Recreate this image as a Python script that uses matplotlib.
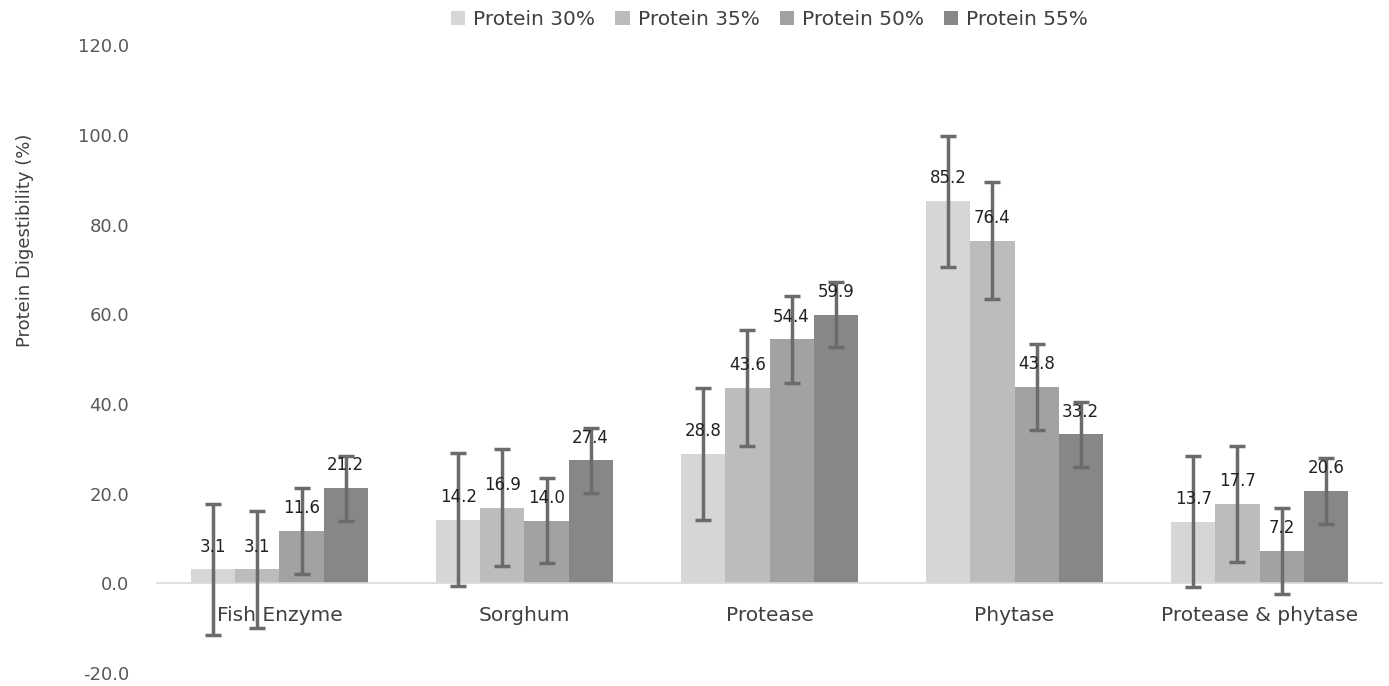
import numpy as np
import matplotlib.pyplot as plt

categorias = ["Fish Enzyme", "Sorghum", "Protease", "Phytase", "Protease & phytase"]
series = ["Protein 30%", "Protein 35%", "Protein 50%", "Protein 55%"]

p30 = [3.1, 14.2, 28.8, 85.2, 13.7]
p35 = [3.1, 16.9, 43.6, 76.4, 17.7]
p50 = [11.6, 14.0, 54.4, 43.8, 7.2]
p55 = [21.2, 27.4, 59.9, 33.2, 20.6]

err30 = [14.6, 14.8, 14.7, 14.6, 14.6]
err35 = [13.1, 13.0, 13.0, 13.0, 13.0]
err50 = [9.6, 9.4, 9.7, 9.6, 9.6]
err55 = [7.2, 7.2, 7.2, 7.2, 7.3]

valores = [p30, p35, p50, p55]
errores = [err30, err35, err50, err55]
colores = ['#d6d6d6', '#bcbcbc', '#a2a2a2', '#878787']

fig = plt.figure(figsize=(13.89, 6.86), dpi=100)
ax = fig.add_axes([0.113, 0.019, 0.882, 0.915])

x = np.arange(len(categorias))
ancho = 0.18
for i in range(4):
    pos = x + (i - 1.5) * ancho
    ax.bar(pos, valores[i], ancho, color=colores[i], label=series[i], zorder=2)
    ax.errorbar(pos, valores[i], yerr=errores[i], fmt='none', ecolor='#6b6b6b',
                elinewidth=2.5, capsize=6, capthick=2.5, zorder=3)
    for xp, v in zip(pos, valores[i]):
        ax.annotate("%.1f" % v, (xp, v), xytext=(0, 10), textcoords='offset points',
                    ha='center', va='bottom', fontsize=12, color='#222222', zorder=4)

ax.set_ylim(-20, 120)
ax.set_xlim(-0.5, len(categorias) - 0.5)
ax.set_yticks(np.arange(-20, 121, 20))
ax.set_yticklabels(["%.1f" % t for t in np.arange(-20, 121, 20)],
                   fontsize=13, color='#595959')
ax.tick_params(axis='y', length=0, pad=20)

ax.spines['bottom'].set_position(('data', 0))
ax.spines['bottom'].set_color('#d9d9d9')
ax.spines['bottom'].set_linewidth(1.2)
for s in ['top', 'right', 'left']:
    ax.spines[s].set_visible(False)
ax.set_xticks(x)
ax.set_xticklabels(categorias, fontsize=14.5, color='#404040')
ax.tick_params(axis='x', length=0, pad=16)

ax.set_ylabel("Protein Digestibility (%)", fontsize=13, color='#404040')
ax.yaxis.set_label_coords(-0.1, 0.69)

ax.legend(loc='upper center', bbox_to_anchor=(0.5, 1.085), ncol=4, frameon=False,
          fontsize=14.5, handlelength=0.7, handleheight=0.7, columnspacing=1.0,
          handletextpad=0.4, labelcolor='#404040')

fig.savefig("out.png", dpi=100)
